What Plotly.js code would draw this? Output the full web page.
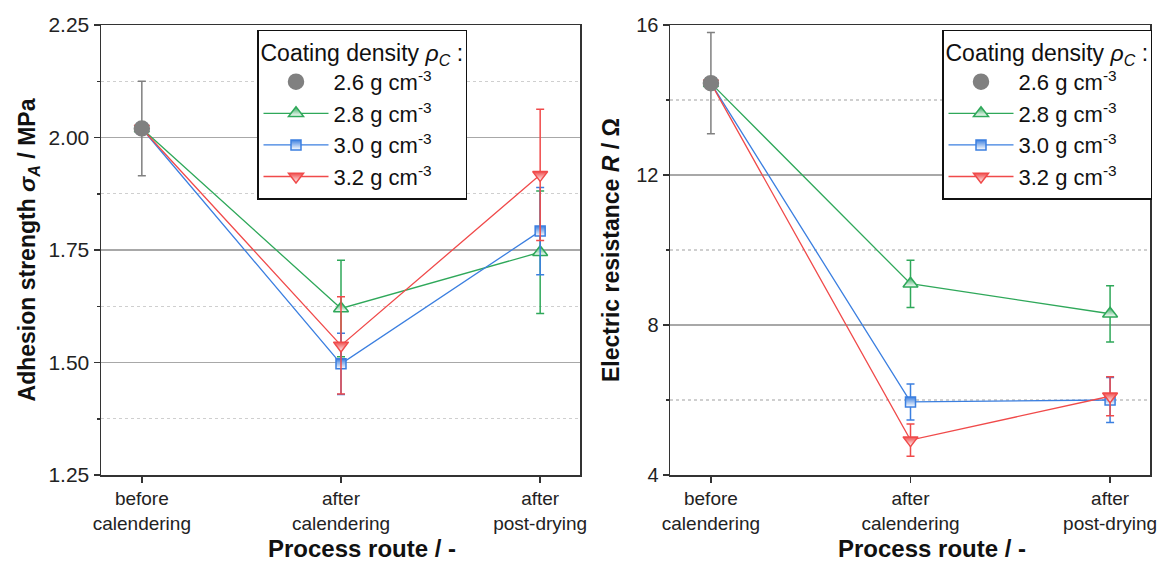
<!DOCTYPE html>
<html><head><meta charset="utf-8">
<script src="https://cdn.plot.ly/plotly-3.0.1.min.js"></script>
<style>body{margin:0;background:#fff}#chart{width:1169px;height:563px}</style>
</head><body><div id="chart"></div>
<script>
const categories = ['before<br>calendering', 'after<br>calendering', 'after<br>post-drying'];
const seriesNames = ['2.6 g cm<sup>-3</sup>', '2.8 g cm<sup>-3</sup>', '3.0 g cm<sup>-3</sup>', '3.2 g cm<sup>-3</sup>'];
const xTitle = '<b>Process route / -</b>';
const yTitleLeft = '<b>Adhesion strength <i>σ<sub>A</sub></i> / MPa</b>';
const yTitleRight = '<b>Electric resistance <i>R</i> / Ω</b>';
const legendTitle = 'Coating density <i>ρ<sub>C</sub></i> :';
// Adhesion strength (MPa)
const adh26 = [2.02, null, null];
const adh26Err = [0.105, 0, 0];
const adh28 = [2.02, 1.62, 1.745];
const adh28Err = [0, 0.107, 0.136];
const adh30 = [2.02, 1.497, 1.792];
const adh30Err = [0, 0.068, 0.097];
const adh32 = [2.02, 1.538, 1.917];
const adh32Err = [0, 0.108, 0.146];
// Electric resistance (Ohm)
const res26 = [14.45, null, null];
const res26Err = [1.35, 0, 0];
const res28 = [14.45, 9.1, 8.3];
const res28Err = [0, 0.63, 0.75];
const res30 = [14.45, 5.95, 6.0];
const res30Err = [0, 0.48, 0.6];
const res32 = [14.45, 4.93, 6.1];
const res32Err = [0, 0.43, 0.52];

const colors = ['#808080', '#2fa85a', '#3b7fe0', '#f04a4a'];
const symbols = ['circle', 'triangle-up', 'square', 'triangle-down'];
const sizes = [15, 13, 10, 13];

function mk(y, err, i, xa, ya, leg) {
  const t = {
    type: 'scatter', x: categories, y: y, xaxis: xa, yaxis: ya,
    name: seriesNames[i], legend: leg, legendrank: i + 1,
    mode: i === 0 ? 'markers' : 'lines+markers',
    line: {color: colors[i], width: 1.3},
    marker: {symbol: symbols[i], size: sizes[i], color: colors[i],
             line: {color: colors[i], width: 1.5}},
    error_y: {type: 'data', array: err, visible: true, color: colors[i], thickness: 1.5, width: 4},
    cliponaxis: false
  };
  if (i > 0) t.marker.gradient = {type: 'vertical', color: '#ffffff'};
  return t;
}

const data = [
  mk(adh28, adh28Err, 1, 'x', 'y', 'legend'),
  mk(adh30, adh30Err, 2, 'x', 'y', 'legend'),
  mk(adh32, adh32Err, 3, 'x', 'y', 'legend'),
  mk(adh26, adh26Err, 0, 'x', 'y', 'legend'),
  mk(res28, res28Err, 1, 'x2', 'y2', 'legend2'),
  mk(res30, res30Err, 2, 'x2', 'y2', 'legend2'),
  mk(res32, res32Err, 3, 'x2', 'y2', 'legend2'),
  mk(res26, res26Err, 0, 'x2', 'y2', 'legend2')
];

const F = 'Liberation Sans, Arial, sans-serif';
const xbase = {
  type: 'category', range: [-0.205, 2.2], showline: true, mirror: true, linecolor: '#333', linewidth: 1.5,
  ticks: 'outside', ticklen: 6, tickcolor: '#333', tickwidth: 1.5, showgrid: false, zeroline: false,
  tickfont: {family: F, size: 19, color: '#222'}
};
const ybase = {
  showline: true, mirror: true, linecolor: '#333', linewidth: 1.5, ticks: 'outside', ticklen: 6,
  tickcolor: '#333', tickwidth: 1.5, zeroline: false, showgrid: true, gridcolor: '#a8a8a8', gridwidth: 1.5
};
const legbase = {
  bgcolor: '#fff', bordercolor: '#111', borderwidth: 1.5, yanchor: 'top', xanchor: 'left',
  font: {family: F, size: 22, color: '#111'}, tracegroupgap: 0, itemwidth: 65, traceorder: 'normal',
  title: {text: legendTitle, font: {family: F, size: 23, color: '#111'}}
};
const xTitleAnn = (xr) => ({
  xref: xr + ' domain', yref: 'paper', x: 0.545, y: -0.163, xanchor: 'center', yanchor: 'middle',
  text: xTitle, showarrow: false, font: {family: F, size: 24, color: '#111'}
});

const layout = {
  width: 1169, height: 563, paper_bgcolor: '#fff', plot_bgcolor: '#fff',
  margin: {l: 0, r: 0, t: 25, b: 88},
  showlegend: true,
  xaxis: Object.assign({}, xbase, {domain: [101/1169, 580/1169], anchor: 'y'}),
  xaxis2: Object.assign({}, xbase, {domain: [670/1169, 1150/1169], anchor: 'y2'}),
  yaxis: Object.assign({}, ybase, {anchor: 'x', range: [1.25, 2.25], dtick: 0.25, tickformat: '.2f',
    tickfont: {family: F, size: 21, color: '#222'},
    minor: {dtick: 0.125, showgrid: true, gridcolor: '#cfcfcf', griddash: 'dot', gridwidth: 1.2, ticks: 'outside', ticklen: 3, tickcolor: '#333'},
    title: {text: yTitleLeft, font: {family: F, size: 23, color: '#111'}, standoff: 6}}),
  yaxis2: Object.assign({}, ybase, {anchor: 'x2', range: [4, 16], dtick: 4,
    tickfont: {family: F, size: 20, color: '#222'},
    minor: {dtick: 2, showgrid: true, gridcolor: '#cfcfcf', griddash: 'dot', gridwidth: 1.2, ticks: 'outside', ticklen: 3, tickcolor: '#333'},
    title: {text: yTitleRight, font: {family: F, size: 23, color: '#111'}, standoff: 10}}),
  legend: Object.assign({}, legbase, {x: 257/1169, y: 0.99}),
  legend2: Object.assign({}, legbase, {x: 942/1169, y: 0.99}),
  annotations: [xTitleAnn('x'), xTitleAnn('x2')]
};

Plotly.newPlot('chart', data, layout, {displayModeBar: false, staticPlot: true});
</script></body></html>
